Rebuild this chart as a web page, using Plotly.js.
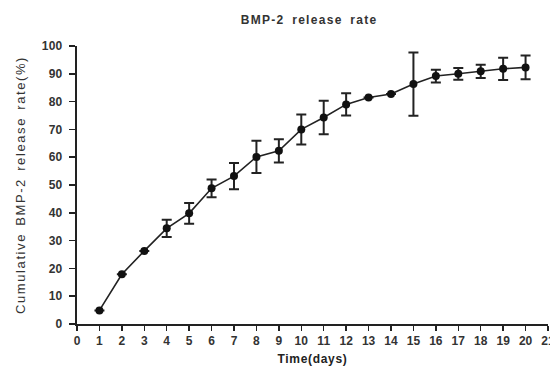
<!DOCTYPE html>
<html><head><meta charset="utf-8">
<script src="https://cdn.plot.ly/plotly-3.0.1.min.js"></script>
<style>
html,body{margin:0;padding:0;background:#fff}
#chart{width:550px;height:368px}
#chart .g-gtitle text{letter-spacing:1.3px;word-spacing:3px}
#chart .g-ytitle text{letter-spacing:1.6px;word-spacing:2px}
#chart .g-xtitle text{letter-spacing:0.7px}
#chart .ytick text{letter-spacing:0.3px}
</style>
</head><body><div id="chart"></div>
<script>
const days = [1,2,3,4,5,6,7,8,9,10,11,12,13,14,15,16,17,18,19,20];
const release = [4.9,17.9,26.3,34.4,39.8,48.8,53.2,60.1,62.3,70.0,74.3,79.0,81.5,82.7,86.3,89.2,90.0,90.9,91.8,92.3];
const errors = [0,0,0,3.1,3.7,3.2,4.7,5.8,4.2,5.4,6.0,4.0,0,0,11.4,2.3,2.1,2.4,4.0,4.3];
const xTicks = [0,1,2,3,4,5,6,7,8,9,10,11,12,13,14,15,16,17,18,19,20,21];
const yTicks = [0,10,20,30,40,50,60,70,80,90,100];

const font = {family:'"Liberation Sans", Arial, sans-serif', color:'#222'};
Plotly.newPlot('chart', [{
  x: days, y: release, type:'scatter', mode:'lines+markers',
  line:{color:'#222', width:1.6},
  marker:{color:'#111', size:8},
  error_y:{type:'data', array:errors, visible:true, color:'#222', thickness:2, width:5}
}], {
  width:550, height:368,
  margin:{l:77, r:2, t:46, b:44},
  paper_bgcolor:'#fff', plot_bgcolor:'#fff',
  showlegend:false,
  title:{text:'BMP-2 release rate', font:Object.assign({}, font, {size:12, weight:'bold', color:'#333'}), x:0.562, xanchor:'center', y:0.946, yanchor:'middle'},
  xaxis:{range:[0,21], tickvals:xTicks, ticktext:xTicks.map(String), showgrid:false, zeroline:false,
    showline:true, linecolor:'#222', linewidth:2, ticks:'outside', ticklen:5, tickwidth:1.5, tickcolor:'#222',
    ticklabeloverflow:'allow',
    tickfont:Object.assign({}, font, {size:12, weight:'bold', color:'#333'}),
    title:{text:'Time(days)', font:Object.assign({}, font, {size:12, weight:'bold'}), standoff:7}, automargin:false},
  yaxis:{range:[0,100], tickvals:yTicks, showgrid:false, zeroline:false,
    showline:true, linecolor:'#222', linewidth:2, ticks:'outside', ticklen:6, tickwidth:1.5, tickcolor:'#222',
    ticklabelstandoff:4,
    tickfont:Object.assign({}, font, {size:12, weight:'bold', color:'#333'}),
    title:{text:'Cumulative BMP-2 release rate(%)', font:Object.assign({}, font, {size:13, color:'#333'}), standoff:14}, automargin:false}
}, {displayModeBar:false, staticPlot:true});
</script></body></html>
